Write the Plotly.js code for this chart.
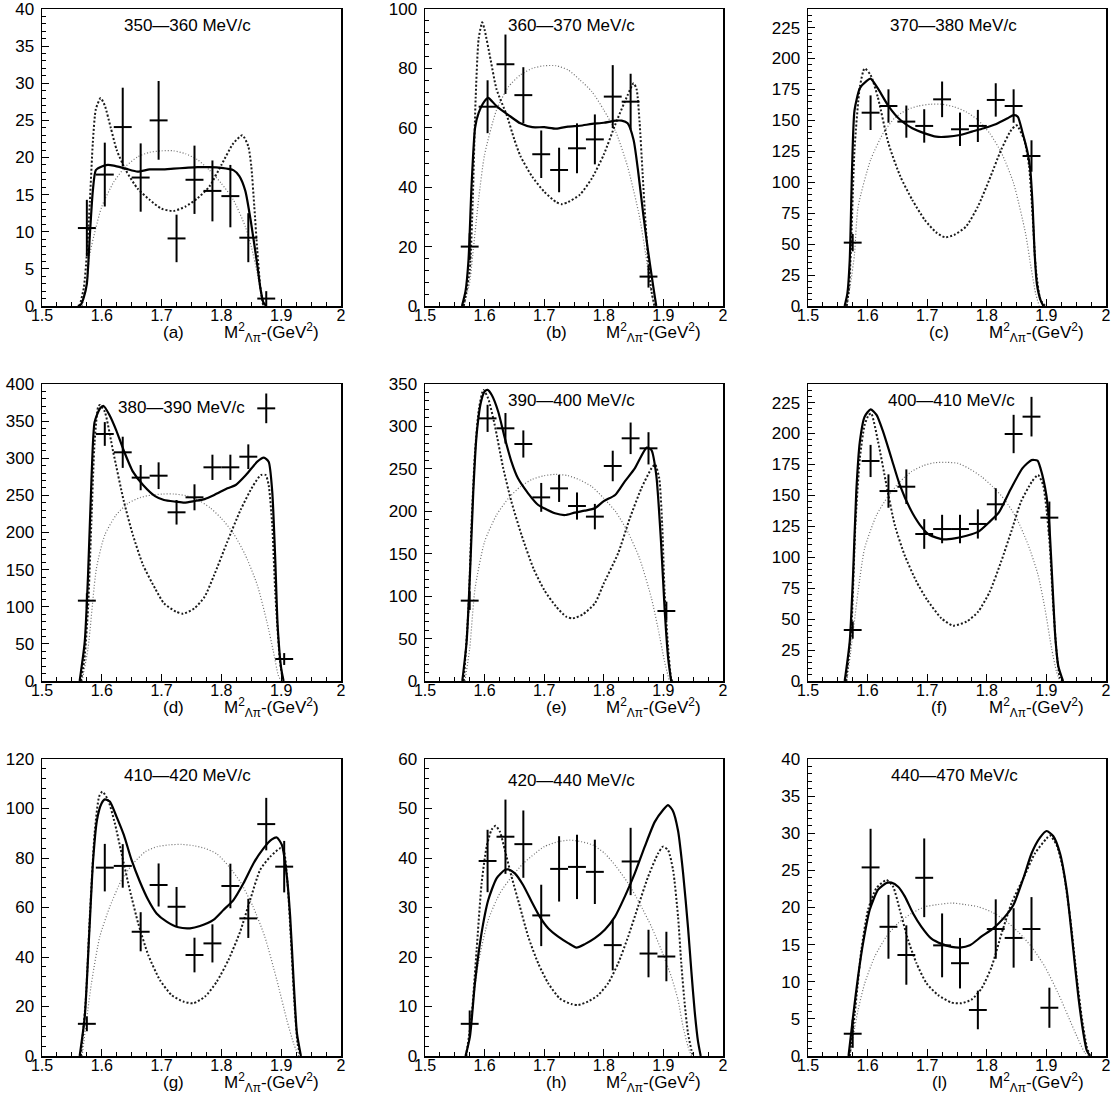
<!DOCTYPE html>
<html>
<head>
<meta charset="utf-8">
<script src="https://cdn.plot.ly/plotly-3.0.1.min.js"></script>
<style>
  html, body { margin: 0; padding: 0; background: #fff; }
  #chart { width: 1115px; height: 1101px; }
</style>
</head>
<body>
<div id="chart"></div>
<script>
// ---------------- DATA ----------------
const binX = [1.575, 1.605, 1.635, 1.665, 1.695, 1.725, 1.755, 1.785, 1.815, 1.845, 1.875, 1.905];
const binHalf = 0.015;

const titles = ['350\u2014360 MeV/c', '360\u2014370 MeV/c', '370\u2014380 MeV/c',
                '380\u2014390 MeV/c', '390\u2014400 MeV/c', '400\u2014410 MeV/c',
                '410\u2014420 MeV/c', '420\u2014440 MeV/c', '440\u2014470 MeV/c'];
const letters = ['(a)', '(b)', '(c)', '(d)', '(e)', '(f)', '(g)', '(h)', '(l)'];
const yMax   = [40, 100, 240, 400, 350, 240, 120, 60, 40];
const yMajor = [5, 20, 25, 50, 50, 25, 20, 10, 5];
const xTickVals = [1.5, 1.6, 1.7, 1.8, 1.9, 2.0];
const xTickText = ['1.5', '1.6', '1.7', '1.8', '1.9', '2'];
const xRange = [1.5, 2.0];
const axisTitle = 'M<sup>2</sup><sub>\u039b\u03c0</sub>-(GeV<sup>2</sup>)';

// measured points (y) and errors per panel
const aY = [10.5, 17.7, 24.1, 17.3, 25.0, 9.1, 17.0, 15.5, 14.8, 9.2, 1.0];
const aErr = [3.8, 4.3, 5.3, 4.6, 5.3, 3.2, 4.6, 4.1, 4.2, 3.3, 1.0];
const bY = [20.0, 67.1, 81.4, 71.0, 51.1, 45.8, 53.1, 56.1, 70.5, 68.8, 9.9];
const bErr = [4.5, 8.9, 10.0, 9.4, 8.0, 7.5, 8.4, 8.4, 10.6, 9.4, 3.7];
const cY = [51.2, 156.2, 161.6, 149.0, 145.5, 167.0, 142.8, 145.5, 166.5, 161.6, 121.2];
const cErr = [7, 14, 13.5, 13, 13.5, 14.4, 13.5, 13, 13.5, 13.5, 12.7];
const dY = [108.2, 332.7, 308, 273.9, 276.5, 227.2, 247.4, 287.8, 287.8, 302.1, 367.2, 29.6];
const dErr = [10, 16, 21, 17, 18, 16.5, 17.5, 17, 17, 16.6, 20, 8];
const eY = [94.7, 309.5, 297.8, 279.3, 216.4, 227, 206.2, 193.7, 253.4, 286, 274.2, 82.5];
const eErr = [11, 16, 18, 16, 17, 16, 16, 15, 18, 18.6, 19, 11];
const fY = [41.2, 177.8, 153.5, 157, 118.8, 122.8, 122.8, 126.9, 142.8, 199.6, 213.6, 132];
const fErr = [7, 13, 13.5, 14, 12, 11.5, 11.5, 11.8, 13, 15.5, 16, 13];
const gY = [13, 76.1, 76.8, 50.2, 69.1, 60.3, 40.8, 45.5, 68.7, 55.6, 93.7, 76.5];
const gErr = [3, 9.6, 8.8, 7.9, 8.7, 8, 7, 7.7, 9, 7.9, 10.6, 10.4];
const hY = [6.5, 39.4, 44.3, 42.8, 28.4, 37.8, 38.2, 37.2, 22.4, 39.3, 20.7, 20.1];
const hErr = [2.7, 6.3, 7.5, 6.8, 6.2, 6.6, 6.5, 6.5, 5.1, 6.8, 4.8, 5];
const iY = [3.0, 25.4, 17.4, 13.6, 24.0, 14.9, 12.5, 6.2, 17.1, 15.9, 17.1, 6.5];
const iErr = [1.9, 5.2, 4.3, 4.0, 5.3, 4.3, 3.4, 2.6, 4.0, 4.0, 4.3, 2.7];

// fit curves [x, y]: total (solid), component 1 (dashed), component 2 (dotted)
const solidA = [[1.560,0],[1.565,0.2],[1.570,1.2],[1.575,3],[1.580,9.5],[1.585,15.5],[1.590,18.3],[1.600,18.8],[1.610,19.0],[1.620,18.9],[1.640,18.5],[1.660,18.1],[1.680,18.4],[1.700,18.4],[1.720,18.5],[1.740,18.6],[1.760,18.7],[1.780,18.7],[1.800,18.6],[1.820,18.3],[1.830,17.5],[1.840,15.5],[1.850,11],[1.860,5.5],[1.865,2.5],[1.870,0.5],[1.875,0]];
const dashA = [[1.563,0],[1.570,2.5],[1.575,7],[1.580,14],[1.585,22],[1.590,26.5],[1.598,28],[1.605,27],[1.615,24],[1.625,21],[1.640,18.3],[1.660,15.8],[1.680,14.3],[1.700,13.1],[1.720,12.8],[1.740,13.4],[1.760,14.5],[1.780,16.1],[1.800,19],[1.820,21.9],[1.835,23],[1.845,21.5],[1.850,18.8],[1.855,13.4],[1.860,7.5],[1.865,2.6],[1.870,0]];
const dotA = [[1.567,0],[1.575,3],[1.580,7],[1.590,10.5],[1.600,13.4],[1.620,16.7],[1.640,18.8],[1.660,20.1],[1.680,20.7],[1.700,20.9],[1.720,20.9],[1.740,20.5],[1.760,19.7],[1.780,18.3],[1.800,16.5],[1.820,14.3],[1.840,10.7],[1.850,8],[1.860,4.4],[1.870,0]];

const solidB = [[1.562,0],[1.568,5],[1.573,15.5],[1.578,40],[1.584,60],[1.590,65],[1.600,69],[1.606,70.1],[1.620,67.3],[1.640,64.3],[1.660,61.5],[1.680,60.2],[1.700,60.2],[1.720,59.7],[1.740,60.4],[1.760,60.7],[1.780,61.3],[1.800,61.7],[1.820,62.4],[1.830,62.4],[1.840,61.5],[1.850,55.9],[1.858,44.7],[1.866,31.2],[1.874,18.9],[1.883,6.5],[1.888,0]];
const dashB = [[1.565,0],[1.575,12],[1.580,35],[1.585,70],[1.590,90],[1.596,95.5],[1.600,93],[1.610,83],[1.620,73],[1.637,64.3],[1.650,56],[1.660,50.5],[1.680,43.5],[1.700,38.5],[1.720,35],[1.730,34.3],[1.740,35],[1.760,37.5],[1.780,43],[1.800,51],[1.820,61.5],[1.840,71],[1.850,75],[1.855,73],[1.860,62],[1.865,45],[1.870,28],[1.875,14],[1.880,5],[1.885,0]];
const dotB = [[1.565,0],[1.575,8],[1.580,17],[1.590,36],[1.600,51],[1.620,66],[1.640,73.8],[1.660,77.8],[1.680,80],[1.700,80.9],[1.720,80.9],[1.740,79.5],[1.760,76.1],[1.780,72.2],[1.800,66],[1.820,58.7],[1.840,46.9],[1.860,30],[1.870,17.7],[1.880,4.3],[1.884,0]];

const solidC = [[1.5615,0],[1.566,10],[1.570,37],[1.574,112],[1.578,158],[1.587,176],[1.598,181.8],[1.605,183.7],[1.617,176],[1.635,161.6],[1.655,150.3],[1.675,143.6],[1.696,139.5],[1.715,136.8],[1.735,136.8],[1.755,138.2],[1.775,140.9],[1.795,143.6],[1.816,147.1],[1.835,151.7],[1.845,154.3],[1.852,153],[1.860,140],[1.868,125],[1.873,110],[1.877,80],[1.880,45],[1.884,18],[1.890,5],[1.895,0]];
const dashC = [[1.565,0],[1.569,15],[1.573,58.7],[1.578,126],[1.587,177],[1.595,192],[1.605,186.7],[1.617,169],[1.635,131.4],[1.655,104.6],[1.675,85.7],[1.696,69.5],[1.715,59.5],[1.730,55.5],[1.745,57.4],[1.765,64.1],[1.785,80.3],[1.804,101.8],[1.824,126.1],[1.841,142.2],[1.850,146],[1.863,134],[1.871,112.6],[1.877,72],[1.882,31.8],[1.890,5],[1.898,0]];
const dotC = [[1.565,0],[1.572,20],[1.578,42],[1.584,80],[1.605,118],[1.626,139.5],[1.645,151.7],[1.665,158.4],[1.685,161.6],[1.705,163],[1.725,163],[1.745,161],[1.765,157],[1.785,150.3],[1.805,139.5],[1.825,123.4],[1.845,99.1],[1.865,58.7],[1.874,31.8],[1.882,10],[1.888,0]];

const solidD = [[1.563,0],[1.5715,53],[1.577,142.8],[1.583,277],[1.588,349],[1.597,367],[1.603,370.4],[1.613,358],[1.624,338],[1.637,309.8],[1.652,282],[1.669,264],[1.689,249],[1.704,243.8],[1.724,241.5],[1.738,240.2],[1.755,242.4],[1.772,245],[1.788,250.5],[1.810,259.5],[1.824,264],[1.841,277.4],[1.860,295.4],[1.871,300.8],[1.879,295.4],[1.885,255],[1.890,165],[1.894,75.4],[1.900,17],[1.904,0]];
const dashD = [[1.565,0],[1.571,30],[1.577,97.9],[1.583,223.6],[1.588,322.3],[1.594,369.5],[1.597,371.7],[1.605,362.7],[1.619,308.9],[1.637,241.5],[1.652,196.6],[1.669,156.2],[1.689,124.8],[1.704,104.6],[1.724,93.4],[1.736,90.7],[1.755,97.9],[1.772,113.6],[1.788,142.8],[1.810,187.7],[1.832,230.3],[1.852,261.7],[1.866,277.4],[1.874,277.4],[1.879,264],[1.885,210],[1.890,120],[1.898,26],[1.903,0]];
const dotD = [[1.567,0],[1.577,44],[1.591,151.7],[1.605,196.6],[1.624,223.6],[1.644,239.3],[1.664,247],[1.683,250.5],[1.701,251.8],[1.721,251.8],[1.741,249.6],[1.761,243.8],[1.781,233.4],[1.800,219],[1.820,198.9],[1.840,169.7],[1.860,129.3],[1.876,79.9],[1.887,39.5],[1.895,8],[1.900,0]];

const solidE = [[1.5626,0],[1.5698,46],[1.5754,125],[1.581,223],[1.5866,290],[1.594,329],[1.600,341],[1.605,343],[1.612,337],[1.623,317],[1.634,286],[1.645,258.5],[1.656,238.8],[1.673,221.2],[1.690,207.4],[1.700,203.5],[1.718,197.6],[1.735,195.6],[1.751,198.4],[1.768,200.7],[1.785,203.5],[1.800,212],[1.819,219.2],[1.835,235],[1.852,250.6],[1.872,275],[1.880,272],[1.888,242.8],[1.896,164],[1.902,85.6],[1.908,26.7],[1.913,0]];
const dashE = [[1.565,0],[1.573,85.6],[1.578,183.8],[1.584,270.3],[1.5905,321],[1.598,343],[1.606,333],[1.617,301.7],[1.6313,250.6],[1.645,211.3],[1.662,172],[1.682,132.6],[1.700,107.2],[1.720,87.6],[1.737,75.8],[1.748,73.8],[1.765,78.6],[1.785,91.5],[1.800,115],[1.824,150.4],[1.8436,191.7],[1.863,227],[1.880,250.6],[1.886,255.3],[1.893,238.8],[1.898,183.8],[1.902,105],[1.908,38.5],[1.913,3],[1.915,0]];
const dotE = [[1.567,0],[1.575,38.5],[1.584,109.2],[1.600,164.2],[1.620,195.6],[1.640,215.3],[1.660,229],[1.680,237.7],[1.700,242],[1.720,243.5],[1.740,242],[1.760,236.9],[1.780,229],[1.800,215.3],[1.820,199.5],[1.840,176],[1.860,144.6],[1.880,97.4],[1.891,62],[1.902,22.8],[1.910,0]];

const solidF = [[1.5616,0],[1.570,31.8],[1.5756,85.7],[1.581,153],[1.587,193.4],[1.595,213.6],[1.605,219.5],[1.615,215],[1.626,201.5],[1.640,180],[1.654,158.4],[1.671,139.5],[1.688,126],[1.704,118],[1.727,114.5],[1.746,115.3],[1.766,117.4],[1.786,120.7],[1.805,128.8],[1.820,136],[1.840,155],[1.860,172],[1.875,178.5],[1.885,178],[1.890,172],[1.900,150],[1.905,125],[1.910,80],[1.915,35],[1.920,12],[1.928,0]];
const dashF = [[1.564,0],[1.573,45],[1.5795,126],[1.587,180],[1.595,206.9],[1.602,215],[1.606,216.3],[1.6176,193.4],[1.6316,158.4],[1.6456,126],[1.662,101.8],[1.682,80.3],[1.700,65.5],[1.724,50.6],[1.7436,44.7],[1.766,48],[1.7855,56],[1.805,72.2],[1.824,96.4],[1.841,120.7],[1.8575,145],[1.8756,161],[1.886,166.5],[1.8945,158.4],[1.900,139.5],[1.906,107.2],[1.911,64],[1.917,23.7],[1.922,3.5],[1.925,0]];
const dotF = [[1.565,0],[1.572,25],[1.584,72.2],[1.595,107.2],[1.615,134],[1.634,149],[1.654,161],[1.6736,169.2],[1.6932,174],[1.7128,176.4],[1.7324,176.7],[1.752,175.9],[1.7716,171.3],[1.7912,165.1],[1.810,157],[1.8303,146.3],[1.850,131.4],[1.8695,109.9],[1.886,85.7],[1.8975,58.7],[1.9087,26.4],[1.917,7.5],[1.9223,0]];

const solidG = [[1.563,0],[1.5715,15.9],[1.579,49.6],[1.5855,79.2],[1.592,95.4],[1.5995,102],[1.605,103.7],[1.6134,102.8],[1.6246,96.7],[1.6368,89.3],[1.6497,79.2],[1.6637,70.4],[1.6777,63],[1.6916,57.6],[1.7084,54.3],[1.728,52],[1.7475,51.6],[1.7642,52.5],[1.7866,55],[1.8034,59],[1.8201,63],[1.8369,69.8],[1.8536,77.8],[1.8704,83.9],[1.8844,87.5],[1.8927,88.3],[1.9011,85.3],[1.9095,72.5],[1.915,56.3],[1.921,29.4],[1.9263,9.2],[1.933,0]];
const dashG = [[1.565,0],[1.5732,22.6],[1.580,56.3],[1.588,90],[1.5955,104.8],[1.601,106.8],[1.6106,103.4],[1.6218,94],[1.633,81.9],[1.6469,67],[1.6609,53.6],[1.6777,40.8],[1.6972,30.7],[1.7168,24.6],[1.7363,22],[1.7531,21.3],[1.7726,24],[1.7922,30],[1.8117,38.8],[1.8313,50.2],[1.848,63],[1.8648,75.2],[1.8816,80.5],[1.8983,83.9],[1.904,83.2],[1.9106,69.8],[1.916,48.2],[1.9218,22.6],[1.9274,5],[1.932,0]];
const dotG = [[1.567,0],[1.5827,29.4],[1.5966,48.2],[1.6134,60.3],[1.633,71.1],[1.6525,77.8],[1.6732,82.6],[1.6927,84.6],[1.7128,85.3],[1.733,85.5],[1.7531,85],[1.7726,83.9],[1.7927,81.6],[1.8128,76.5],[1.833,69.8],[1.853,60.3],[1.8726,48.2],[1.8927,30.7],[1.9095,14.5],[1.9207,5.1],[1.929,0]];

const solidH = [[1.568,0],[1.5754,3.9],[1.5838,14.7],[1.5939,24.1],[1.6061,31.5],[1.6201,35.9],[1.634,37.6],[1.6397,37.7],[1.6508,36.9],[1.6648,34.5],[1.6788,31.2],[1.6927,28.1],[1.7067,25.8],[1.7235,24.1],[1.7402,22.8],[1.7542,21.9],[1.7682,22.6],[1.785,23.8],[1.8017,25.5],[1.8185,28.1],[1.8352,32.2],[1.852,36.9],[1.8687,42.3],[1.8855,47.3],[1.8994,49.7],[1.9078,50.7],[1.916,49.5],[1.9246,45.5],[1.933,37],[1.9413,26],[1.947,17],[1.9525,9],[1.958,3],[1.9626,0]];
const dashH = [[1.569,0],[1.578,7.9],[1.5866,21.4],[1.595,34.9],[1.6034,42.3],[1.6117,45.7],[1.6184,46.5],[1.6257,45.3],[1.634,41.6],[1.6453,36.2],[1.6592,30.2],[1.6732,24.1],[1.690,18.7],[1.7067,14.7],[1.7263,11.6],[1.7458,10.5],[1.757,10.3],[1.7737,11],[1.7905,12.3],[1.8073,14.7],[1.824,18.7],[1.8408,24.1],[1.8575,30.2],[1.8743,36.2],[1.891,40.9],[1.8994,42.3],[1.9078,41.6],[1.9162,37.6],[1.9246,28.1],[1.930,18.7],[1.9357,10.6],[1.9413,4.6],[1.947,1.2],[1.9497,0]];
const dotH = [[1.570,0],[1.578,7.9],[1.5894,18.7],[1.6061,27.5],[1.6257,32.9],[1.6453,36.2],[1.6648,38.9],[1.6844,40.9],[1.700,42.3],[1.7235,43.3],[1.743,43.6],[1.7626,43.3],[1.782,42.6],[1.8017,40.9],[1.8212,38.2],[1.8408,34.9],[1.8603,30.8],[1.880,26.1],[1.8966,21.4],[1.9134,16],[1.9246,11.3],[1.933,5.9],[1.9413,1.9],[1.947,0]];

const solidI = [[1.568,0],[1.5756,5.3],[1.584,10.7],[1.5924,15.2],[1.6036,19.7],[1.6176,22.4],[1.6316,23.3],[1.640,23.35],[1.6512,22.8],[1.6624,21.5],[1.6764,19.2],[1.6904,17.4],[1.7071,15.8],[1.724,15.1],[1.7408,14.7],[1.7548,14.6],[1.7716,14.9],[1.7912,16.1],[1.8108,17.2],[1.8276,18.5],[1.8444,20.3],[1.8612,23.9],[1.8752,27.3],[1.8892,29.4],[1.9004,30.3],[1.9116,29.6],[1.9228,27.3],[1.934,22.4],[1.9452,14.3],[1.9536,8],[1.962,3.1],[1.9676,0.8],[1.9732,0]];
const dashI = [[1.570,0],[1.5784,5.7],[1.5896,14.3],[1.6008,19.7],[1.6148,22.6],[1.6316,23.7],[1.6428,22.8],[1.654,19.7],[1.668,15.6],[1.682,12.5],[1.6988,9.8],[1.7184,8.2],[1.7408,7.2],[1.7576,7.1],[1.7744,7.6],[1.7912,9.1],[1.808,12],[1.8248,16.5],[1.8416,20.6],[1.8612,23.9],[1.8808,27.3],[1.9004,29.3],[1.906,29.7],[1.9172,28.4],[1.9284,25],[1.9396,18.8],[1.9508,10.7],[1.9592,5.3],[1.9676,1.3],[1.9732,0]];
const dotI = [[1.570,0],[1.584,6.2],[1.5952,9.8],[1.612,13.4],[1.6316,16.1],[1.6512,17.9],[1.6736,19.2],[1.696,20.1],[1.7184,20.4],[1.7408,20.6],[1.7632,20.4],[1.7856,20.1],[1.808,19.4],[1.8304,18.3],[1.8528,16.7],[1.8752,14.7],[1.8976,12],[1.920,8.4],[1.9368,5.3],[1.9536,2.2],[1.9648,0.4],[1.9704,0]];

const pointsY = [aY, bY, cY, dY, eY, fY, gY, hY, iY];
const pointsErr = [aErr, bErr, cErr, dErr, eErr, fErr, gErr, hErr, iErr];
const solids = [solidA, solidB, solidC, solidD, solidE, solidF, solidG, solidH, solidI];
const dashes = [dashA, dashB, dashC, dashD, dashE, dashF, dashG, dashH, dashI];
const dots = [dotA, dotB, dotC, dotD, dotE, dotF, dotG, dotH, dotI];

// ---------------- LAYOUT (pixel geometry) ----------------
const W = 1115, H = 1101;
const colPx = [[42, 341], [425, 723], [808, 1106]];
const rowPx = [[9, 306], [384, 681], [759, 1056]];
const titleYOff = [16, 16, 16, 23, 16, 16, 16, 21, 16];
const titleX = [1.744, 1.745, 1.744, 1.734, 1.745, 1.741, 1.744, 1.745, 1.745];
const FONT = 'Liberation Sans, Arial, Helvetica, sans-serif';

const traces = [];
const layout = {
  width: W, height: H,
  margin: {l: 0, r: 0, t: 0, b: 0},
  paper_bgcolor: 'white', plot_bgcolor: 'white',
  showlegend: false,
  font: {family: FONT, size: 16, color: 'black'},
  annotations: []
};

for (let p = 0; p < 9; p++) {
  const r = Math.floor(p / 3), c = p % 3;
  const n = p === 0 ? '' : String(p + 1);
  const xa = 'x' + n, ya = 'y' + n;
  const [x0, x1] = colPx[c];
  const [y0, y1] = rowPx[r];
  const plotH = y1 - y0;

  layout['xaxis' + n] = {
    domain: [x0 / W, x1 / W], anchor: ya, range: xRange,
    tickmode: 'array', tickvals: xTickVals, ticktext: xTickText,
    ticks: 'inside', ticklen: 7, tickwidth: 1, tickcolor: 'black',
    ticklabelstandoff: -6, ticklabeloverflow: 'allow',
    minor: {dtick: 0.025, tick0: 1.5, ticks: 'inside', ticklen: 4, tickcolor: 'black', showgrid: false},
    showline: true, linecolor: 'black', linewidth: 1.5, mirror: true,
    showgrid: false, zeroline: false,
    tickfont: {family: FONT, size: 16, color: 'black'}
  };
  layout['yaxis' + n] = {
    domain: [1 - y1 / H, 1 - y0 / H], anchor: xa, range: [0, yMax[p]],
    tickmode: 'linear', tick0: 0, dtick: yMajor[p],
    ticks: 'inside', ticklen: 7, tickwidth: 1, tickcolor: 'black',
    ticklabelstandoff: 3, ticklabeloverflow: 'allow',
    minor: {dtick: yMajor[p] / 5, ticks: 'inside', ticklen: 4, tickcolor: 'black', showgrid: false},
    showline: true, linecolor: 'black', linewidth: 1.5, mirror: true,
    showgrid: false, zeroline: false,
    tickfont: {family: FONT, size: 17, color: 'black'}
  };

  const split = (arr) => ({x: arr.map(d => d[0]), y: arr.map(d => d[1])});
  const dt = split(dots[p]);
  traces.push({x: dt.x, y: dt.y, xaxis: xa, yaxis: ya, mode: 'lines', type: 'scatter',
    line: {color: '#6e6e6e', width: 1.2, dash: '1px,2px', shape: 'spline', smoothing: 0.6}, hoverinfo: 'skip'});
  const ds = split(dashes[p]);
  traces.push({x: ds.x, y: ds.y, xaxis: xa, yaxis: ya, mode: 'lines', type: 'scatter',
    line: {color: '#1a1a1a', width: 2, dash: '2px,2px', shape: 'spline', smoothing: 0.6}, hoverinfo: 'skip'});
  const so = split(solids[p]);
  traces.push({x: so.x, y: so.y, xaxis: xa, yaxis: ya, mode: 'lines', type: 'scatter',
    line: {color: 'black', width: 2.2, shape: 'spline', smoothing: 0.6}, hoverinfo: 'skip'});

  const ny = pointsY[p].length;
  traces.push({
    x: binX.slice(0, ny), y: pointsY[p], xaxis: xa, yaxis: ya,
    type: 'scatter', mode: 'markers',
    marker: {size: 1, color: 'black'},
    error_y: {type: 'data', array: pointsErr[p], visible: true, color: 'black', thickness: 2, width: 0},
    error_x: {type: 'constant', value: binHalf, visible: true, color: 'black', thickness: 2, width: 0},
    hoverinfo: 'skip'
  });

  layout.annotations.push({
    text: titles[p], xref: xa, yref: ya + ' domain',
    x: titleX[p], y: 1 - titleYOff[p] / plotH, xanchor: 'center', yanchor: 'middle',
    showarrow: false, font: {family: FONT, size: 17, color: 'black'}
  });
  layout.annotations.push({
    text: letters[p], xref: xa, yref: ya + ' domain',
    x: 1.72, y: -26 / plotH, xanchor: 'center', yanchor: 'middle',
    showarrow: false, font: {family: FONT, size: 17, color: 'black'}
  });
  layout.annotations.push({
    text: axisTitle, xref: xa, yref: ya + ' domain',
    x: 1.883, y: -26 / plotH, xanchor: 'center', yanchor: 'middle',
    showarrow: false, font: {family: FONT, size: 17, color: 'black'}
  });
}

Plotly.newPlot('chart', traces, layout, {staticPlot: true, displayModeBar: false});
</script>
</body>
</html>
